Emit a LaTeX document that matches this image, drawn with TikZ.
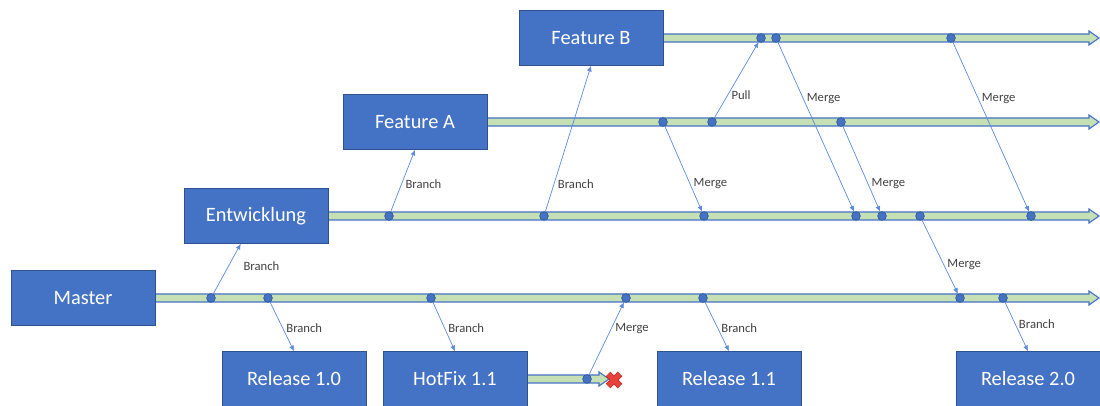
\documentclass[tikz,border=0pt]{standalone}
\usepackage{fontspec}
\setmainfont{Carlito}
\usetikzlibrary{arrows.meta}

\definecolor{boxblue}{HTML}{4472C4}
\definecolor{boxline}{HTML}{2F528F}
\definecolor{lanegreen}{HTML}{C5E0B4}
\definecolor{linkblue}{HTML}{5B8BD9}
\definecolor{stopred}{HTML}{E8433A}

\tikzset{
  branchbox/.style={draw=boxline, fill=boxblue, text=white, inner sep=0pt,
    minimum width=3.6cm, minimum height=1.375cm, font=\fontsize{14.5}{16}\selectfont},
  lane/.style={draw=boxblue, fill=lanegreen, line width=0.8pt},
  commit/.style={circle, draw=boxline, fill=boxblue, inner sep=0pt, minimum size=0.22cm},
  link/.style={draw=linkblue, line width=0.5pt, -{Latex[length=4pt,width=3.5pt]}},
  lbl/.style={font=\fontsize{9}{10}\selectfont, text=black!75, anchor=west, inner sep=2.5pt}
}

% one lane: start x, tip x, y
\newcommand\lanebar[3]{%
  \draw[lane] (#1,#3-4) -- (#2-10,#3-4) -- (#2-10,#3-7) -- (#2,#3)
    -- (#2-10,#3+7) -- (#2-10,#3+4) -- (#1,#3+4) -- cycle;}

\begin{document}
\begin{tikzpicture}[x=0.025cm, y=-0.025cm]
\useasboundingbox (0,0) rectangle (1100,406);

% lanes
\lanebar{150}{1099}{298}
\lanebar{320}{1099}{216}
\lanebar{480}{1099}{122}
\lanebar{655}{1099}{38}
\lanebar{520}{609}{379}

% boxes
\node[branchbox] (mas) at (83,298) {Master};
\node[branchbox] (ent) at (256,216) {Entwicklung};
\node[branchbox] (fa) at (415,122) {Feature A};
\node[branchbox] (fb) at (591,38) {Feature B};
\node[branchbox] (r10) at (294,379) {Release 1.0};
\node[branchbox] (hf) at (455,379) {HotFix 1.1};
\node[branchbox] (r11) at (729,379) {Release 1.1};
\node[branchbox] (r20) at (1028,379) {Release 2.0};

% commits
\foreach \x [count=\i] in {211,268,431,626,703,960,1003}
  \node[commit] (m\i) at (\x,298) {};
\foreach \x [count=\i] in {389,544,704,856,882,920,1031}
  \node[commit] (e\i) at (\x,216) {};
\foreach \x [count=\i] in {663,712,841}
  \node[commit] (a\i) at (\x,122) {};
\foreach \x [count=\i] in {761,776,951}
  \node[commit] (b\i) at (\x,38) {};
\node[commit] (h1) at (587,379) {};

% dropped hotfix
\coordinate (stop) at (614,380);
\draw[stopred!80!black, line width=4.6pt] ([shift={(-6,-6)}]stop) -- ([shift={(6,6)}]stop)
  ([shift={(-6,6)}]stop) -- ([shift={(6,-6)}]stop);
\draw[stopred, line width=3.4pt] ([shift={(-5.6,-5.6)}]stop) -- ([shift={(5.6,5.6)}]stop)
  ([shift={(-5.6,5.6)}]stop) -- ([shift={(5.6,-5.6)}]stop);

% branches and merges
\draw[link] (m1) -- (ent) node[lbl, pos=0.55, xshift=8pt] {Branch};
\draw[link] (m2) -- (r10.north) node[lbl, pos=0.52] {Branch};
\draw[link] (m3) -- (hf.north) node[lbl, pos=0.52] {Branch};
\draw[link] (h1) -- (m4) node[lbl, pos=0.64] {Merge};
\draw[link] (m5) -- (r11.north) node[lbl, pos=0.52] {Branch};
\draw[link] (m7) -- (r20.north) node[lbl, pos=0.44] {Branch};
\draw[link] (e1) -- (fa.south) node[lbl, pos=0.45] {Branch};
\draw[link] (e2) -- (fb.south) node[lbl, pos=0.19] {Branch};
\draw[link] (a1) -- (e3) node[lbl, pos=0.67] {Merge};
\draw[link] (a2) -- (b1) node[lbl, pos=0.30] {Pull};
\draw[link] (b2) -- (e4) node[lbl, pos=0.33] {Merge};
\draw[link] (a3) -- (e5) node[lbl, pos=0.67] {Merge};
\draw[link] (e6) -- (m6) node[lbl, pos=0.60] {Merge};
\draw[link] (b3) -- (e7) node[lbl, pos=0.33] {Merge};
\end{tikzpicture}
\end{document}
